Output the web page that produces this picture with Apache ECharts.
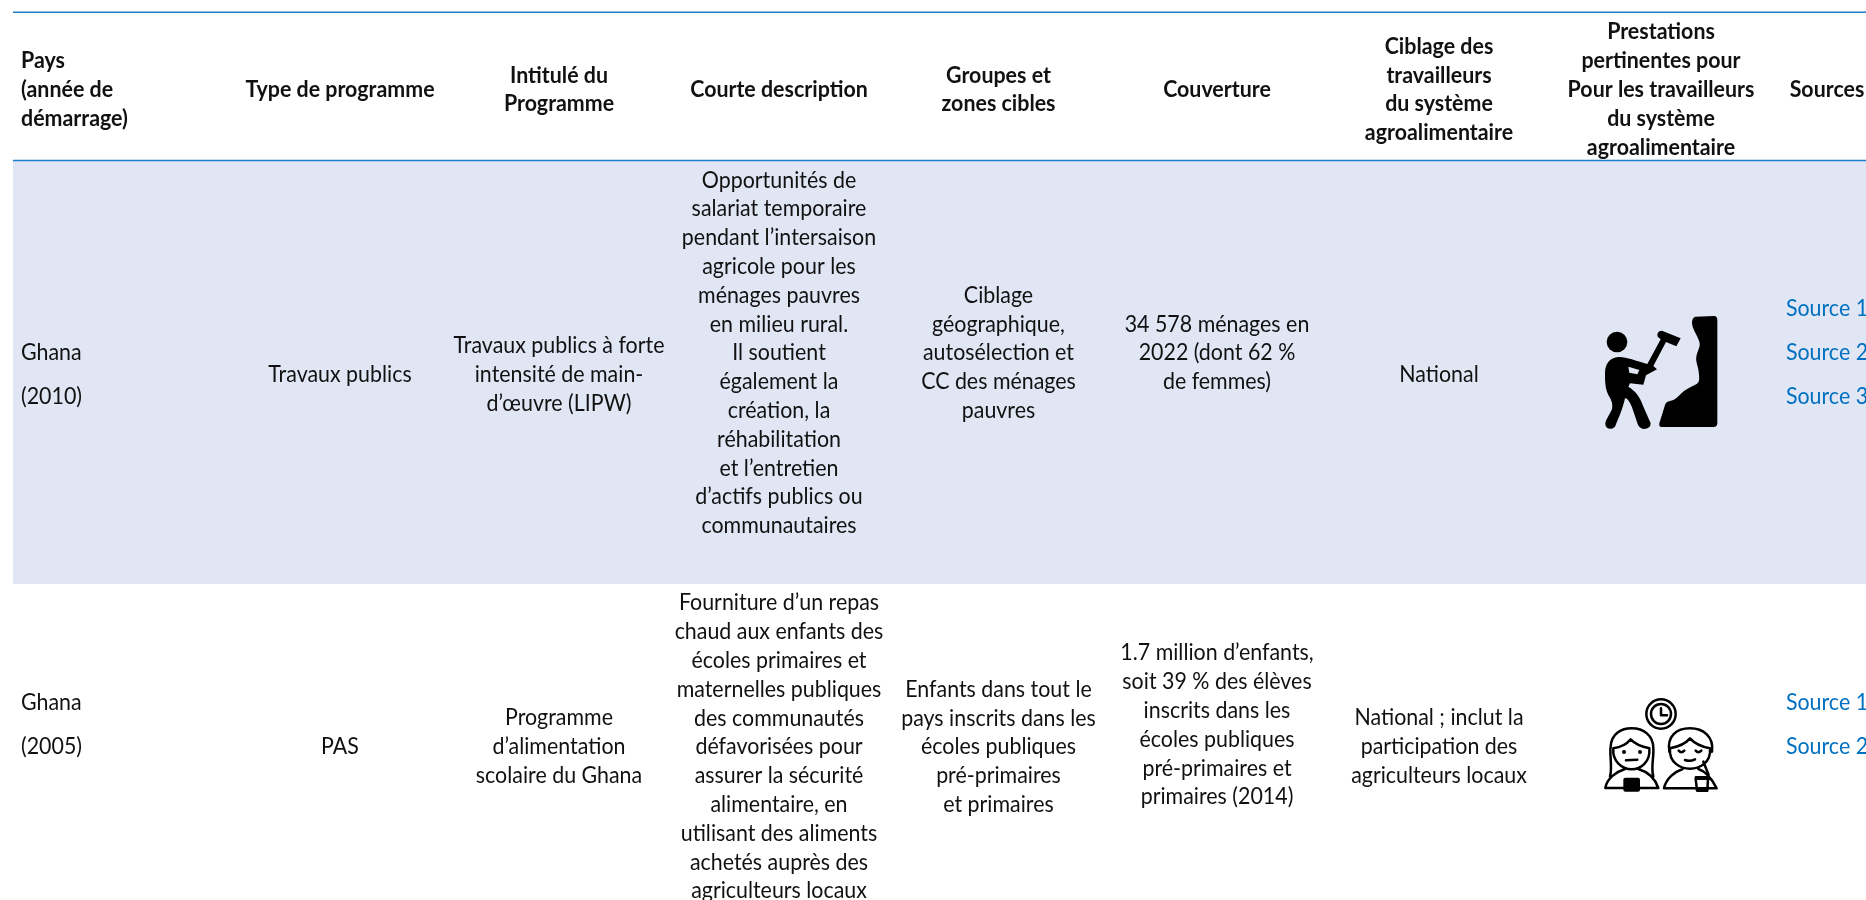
<!DOCTYPE html>
<html><head><meta charset="utf-8">
<style>html,body{margin:0;padding:0;background:#fff}#c{width:1866px;height:900px}</style>
<script src="https://cdn.jsdelivr.net/npm/echarts@6/dist/echarts.min.js"></script>
</head><body><div id="c"></div>
<script>
// ---- table content ----
const headers = [
 ['Pays','(année de','démarrage)'],
 ['Type de programme'],
 ['Intitulé du','Programme'],
 ['Courte description'],
 ['Groupes et','zones cibles'],
 ['Couverture'],
 ['Ciblage des','travailleurs','du système','agroalimentaire'],
 ['Prestations','pertinentes pour','Pour les travailleurs','du système','agroalimentaire'],
 ['Sources']
];
const countries = [['Ghana','(2010)'],['Ghana','(2005)']];
const programTypes = [['Travaux publics'],['PAS']];
const programTitles = [
 ['Travaux publics à forte','intensité de main-','d’œuvre (LIPW)'],
 ['Programme','d’alimentation','scolaire du Ghana']
];
const descriptions = [
 ['Opportunités de','salariat temporaire','pendant l’intersaison','agricole pour les','ménages pauvres','en milieu rural.','Il soutient','également la','création, la','réhabilitation','et l’entretien','d’actifs publics ou','communautaires'],
 ['Fourniture d’un repas','chaud aux enfants des','écoles primaires et','maternelles publiques','des communautés','défavorisées pour','assurer la sécurité','alimentaire, en','utilisant des aliments','achetés auprès des','agriculteurs locaux']
];
const targetGroups = [
 ['Ciblage','géographique,','autosélection et','CC des ménages','pauvres'],
 ['Enfants dans tout le','pays inscrits dans les','écoles publiques','pré-primaires','et primaires']
];
const coverage = [
 ['34 578 ménages en','2022 (dont 62 %','de femmes)'],
 ['1.7 million d’enfants,','soit 39 % des élèves','inscrits dans les','écoles publiques','pré-primaires et','primaires (2014)']
];
const workerTargeting = [['National'],['National ; inclut la','participation des','agriculteurs locaux']];
const sources = [['Source 1','Source 2','Source 3'],['Source 1','Source 2']];

// ---- layout (pixels on the hidden axes) ----
const W = 1866, H = 900;
const columnX = [21,340,559,779,998.5,1217,1439,1661,1827];
const ruleY = [12.3,160.5];
const bandTop = 161, bandBottom = 584, tableLeft = 13;
const lineStep = 28.8, wideStep = 44;
const headerMidY = 89.5;
const rowMidY = {
 country:[375,725], type:[374.5,746.5], title:[374.5,746.5], desc:[353,747],
 group:[353,747], cover:[353,725], target:[374.5,746.5], source:[353,725]
};
const BODY = 23, HEAD = 23, sxBody = 0.93, sxHead = 0.93;
const FONT = 'Lato, "Open Sans", sans-serif';
const INK = '#111111', LINK = '#0070c0', RULE = '#1d7ccb', BAND = '#e0e6f4';

// ---- flatten text into drawable lines ----
const textLines = [];
function place(lines, x, midY, step, opt) {
  lines.forEach((t, i) => textLines.push(Object.assign({
    t, x, y: midY + (i - (lines.length - 1) / 2) * step, w: 400, size: BODY, fill: INK, a: 'center', sx: sxBody
  }, opt)));
}
headers.forEach((h, c) => place(h, columnX[c], headerMidY, lineStep,
  {w: 700, size: HEAD, a: c === 0 ? 'left' : 'center', sx: sxHead}));
[0,1].forEach(r => {
  place(countries[r], columnX[0], rowMidY.country[r], wideStep, {a: 'left'});
  place(programTypes[r], columnX[1], rowMidY.type[r], lineStep);
  place(programTitles[r], columnX[2], rowMidY.title[r], lineStep);
  place(descriptions[r], columnX[3], rowMidY.desc[r], lineStep);
  place(targetGroups[r], columnX[4], rowMidY.group[r], lineStep);
  place(coverage[r], columnX[5], rowMidY.cover[r], lineStep);
  place(workerTargeting[r], columnX[6], rowMidY.target[r], lineStep);
  place(sources[r], columnX[8], rowMidY.source[r], wideStep, {fill: LINK});
});

// ---- pictograms, in 3x local coordinates ----
const rockPath = 'M405 80L462 78Q472 78 472 90L472 400Q472 411 460 411L305 411Q296 411 298 400L315 345Q318 335 330 333C345 330 352 322 362 312C375 298 395 290 410 282C420 275 418 262 416 245C414 225 405 215 410 195C415 175 422 170 418 155C412 135 396 115 396 98Q396 85 405 80Z';
const workerPath = 'M135 250C135 220 150 203 175 201C200 200 225 212 262 222L302 148L293 140Q290 130 298 124L306 122L362 145L349 169L318 156L280 228L291 238L258 256L250 284L210 280L205 290C225 302 240 320 248 345L272 400Q272 416 252 417Q238 416 233 402L216 352C210 335 200 322 195 325C190 350 176 385 165 410Q150 423 138 410Q133 400 140 388L155 360C160 345 155 330 145 315C135 295 135 270 135 250Z';
const workerHole = 'M205 230L238 240L232 253L208 248Z';
const girlStroke = 'M150 290C158 262 148 225 152 200C154 160 185 145 215 145C250 145 280 165 280 205C282 235 272 260 280 290M160 205C156 245 188 268 215 268C242 268 272 245 268 205C245 200 225 192 212 178C200 193 185 202 160 205ZM198 241L232 239M136 324C140 295 170 275 195 267M235 267C262 275 285 295 295 324L136 324';
const boyStroke = 'M328 215C320 168 350 145 390 145C430 145 462 170 456 215M330 205C326 248 362 266 390 266C418 266 454 248 450 205C425 200 405 192 390 175C375 193 355 200 330 205ZM356 212Q364 221 373 212M407 212Q415 221 424 212M375 240Q390 246 405 238M312 325C318 295 345 275 368 267M415 267C440 275 455 295 470 325L312 325M430 245L446 285M407 296L444 296L442 332L411 332Z';
const clockStroke = 'M303 85L303 106L321 106';

const option = {
  animation: false,
  backgroundColor: '#ffffff',
  grid: {left: 0, right: 0, top: 0, bottom: 0},
  xAxis: {type: 'value', min: 0, max: W, show: false},
  yAxis: {type: 'value', min: 0, max: H, inverse: true, show: false},
  series: [
    { // row band and rules
      type: 'custom', silent: true, clip: false, z: 1, data: [[0]],
      renderItem: (p, api) => {
        const tl = api.coord([tableLeft, bandTop]), br = api.coord([W, bandBottom]);
        const kids = [{type: 'rect', shape: {x: tl[0], y: tl[1], width: br[0] - tl[0], height: br[1] - tl[1]}, style: {fill: BAND}}];
        ruleY.forEach(y => {
          const a = api.coord([tableLeft, y]), b = api.coord([W, y]);
          kids.push({type: 'line', shape: {x1: a[0], y1: a[1], x2: b[0], y2: b[1]}, style: {stroke: RULE, lineWidth: 1.4}});
        });
        return {type: 'group', children: kids};
      }
    },
    { // pictograms
      type: 'custom', silent: true, clip: false, z: 2, data: [[1560, 290, 0], [1560, 680, 1]],
      renderItem: (p, api) => {
        const o = api.coord([api.value(0), api.value(1)]);
        const ink = {fill: '#000'};
        const line = {fill: null, stroke: '#000', lineWidth: 7.5, lineCap: 'round', lineJoin: 'round'};
        const kids = api.value(2) === 0 ? [
          {type: 'path', shape: {pathData: rockPath}, style: ink},
          {type: 'path', shape: {pathData: workerPath}, style: ink},
          {type: 'circle', shape: {cx: 171, cy: 156, r: 31}, style: ink},
          {type: 'path', shape: {pathData: workerHole}, style: {fill: BAND}}
        ] : [
          {type: 'circle', shape: {cx: 303, cy: 102, r: 44}, style: line},
          {type: 'circle', shape: {cx: 303, cy: 102, r: 30}, style: line},
          {type: 'path', shape: {pathData: clockStroke}, style: line},
          {type: 'path', shape: {pathData: girlStroke}, style: line},
          {type: 'path', shape: {pathData: boyStroke}, style: line},
          {type: 'circle', shape: {cx: 192, cy: 216, r: 6}, style: ink},
          {type: 'circle', shape: {cx: 240, cy: 216, r: 6}, style: ink},
          {type: 'rect', shape: {x: 190, y: 293, width: 50, height: 42, r: 6}, style: ink},
          {type: 'rect', shape: {x: 404, y: 288, width: 43, height: 10, r: 3}, style: ink}
        ];
        return {type: 'group', x: o[0], y: o[1], scaleX: 1 / 3, scaleY: 1 / 3, children: kids};
      }
    },
    { // text
      type: 'custom', silent: true, clip: false, z: 3,
      data: textLines.map((l, i) => [l.x, l.y, i]),
      renderItem: (p, api) => {
        const l = textLines[api.value(2)];
        const c = api.coord([api.value(0), api.value(1)]);
        return {
          type: 'text', x: c[0], y: c[1], scaleX: l.sx,
          style: {
            text: l.t, fill: l.fill, textAlign: l.a, textVerticalAlign: 'middle',
            font: l.w + ' ' + l.size + 'px ' + FONT
          }
        };
      }
    }
  ]
};
echarts.init(document.getElementById('c'), null, {renderer: 'canvas'}).setOption(option);
</script></body></html>
